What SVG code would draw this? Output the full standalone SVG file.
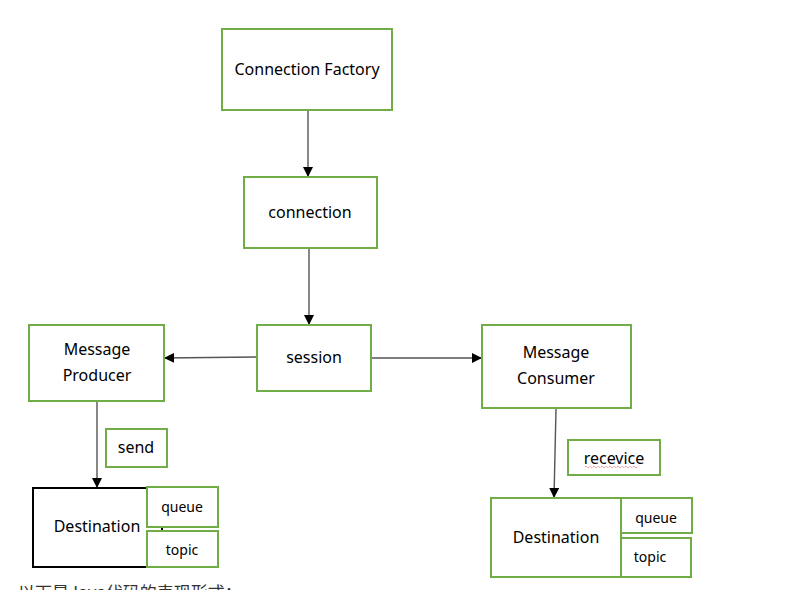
<svg xmlns="http://www.w3.org/2000/svg" width="795" height="590" viewBox="0 0 795 590">
<defs>
<style>
.box{fill:#fff;stroke:#70AD47;stroke-width:2}
.blk{fill:#fff;stroke:#000;stroke-width:2}
.t{font-family:"Noto Sans","Liberation Sans",sans-serif;font-size:16px;fill:#000;text-anchor:middle;dominant-baseline:central}
.s{font-size:14px}
.c{stroke:#555;stroke-width:1.4;fill:none;marker-end:url(#ah)}
</style>
<marker id="ah" viewBox="0 0 10 10" refX="10" refY="5" markerWidth="10" markerHeight="10" markerUnits="userSpaceOnUse" orient="auto">
<path d="M0,0 L10,5 L0,10 z" fill="#000"/>
</marker>
</defs>
<rect width="795" height="590" fill="#fff"/>
<g id="connectors">
<line class="c" x1="308" y1="111" x2="308" y2="177"/>
<line class="c" x1="309" y1="249" x2="309" y2="325"/>
<line class="c" x1="256" y1="357" x2="164" y2="358"/>
<line class="c" x1="372" y1="358" x2="482" y2="358"/>
<line class="c" x1="97" y1="402" x2="97" y2="488"/>
<line class="c" x1="556" y1="409" x2="554" y2="498"/>
</g>
<g id="connection-factory"><rect class="box" x="222" y="29" width="170" height="81"/><text class="t" x="307" y="69">Connection Factory</text></g>
<g id="connection"><rect class="box" x="244" y="177" width="133" height="71"/><text class="t" x="310" y="212">connection</text></g>
<g id="session"><rect class="box" x="257" y="325" width="114" height="66"/><text class="t" x="314" y="357">session</text></g>
<g id="message-producer"><rect class="box" x="29" y="325" width="135" height="76"/><text class="t" x="97" y="349">Message</text><text class="t" x="97" y="375">Producer</text></g>
<g id="message-consumer"><rect class="box" x="482" y="325" width="149" height="83"/><text class="t" x="556" y="352">Message</text><text class="t" x="556" y="378">Consumer</text></g>
<g id="send"><rect class="box" x="106" y="429" width="61" height="38"/><text class="t" x="136" y="447">send</text></g>
<g id="recevice"><rect class="box" x="568" y="440" width="92" height="35"/><text class="t" x="614" y="458">recevice</text>
<path d="M585,467 q1,-1.5 2,0 t2,0 t2,0 t2,0 t2,0 t2,0 t2,0 t2,0 t2,0 t2,0 t2,0 t2,0 t2,0 t2,0 t2,0 t2,0 t2,0 t2,0 t2,0 t2,0 t2,0 t2,0 t2,0 t2,0 t2,0 t2,0" fill="none" stroke="#e03030" stroke-width="0.8" stroke-dasharray="1 1"/></g>
<g id="destination-left"><rect class="blk" x="33" y="488" width="129" height="79"/><text class="t" x="97" y="526">Destination</text></g>
<g id="queue-left"><rect class="box" x="147" y="487" width="71" height="40"/><text class="t s" x="182" y="506">queue</text></g>
<g id="topic-left"><rect class="box" x="147" y="531" width="71" height="36"/><text class="t s" x="182" y="549">topic</text></g>
<g id="destination-right"><rect class="box" x="491" y="498" width="130" height="79"/><text class="t" x="556" y="537">Destination</text></g>
<g id="queue-right"><rect class="box" x="621" y="498" width="71" height="35"/><text class="t s" x="656" y="517">queue</text></g>
<g id="topic-right"><rect class="box" x="621" y="538" width="70" height="39"/><text class="t s" x="650" y="556">topic</text></g>
<text x="18" y="599" font-family="'Noto Sans CJK SC',sans-serif" font-size="17" fill="#333">以下是Java代码的表现形式：</text>
</svg>
